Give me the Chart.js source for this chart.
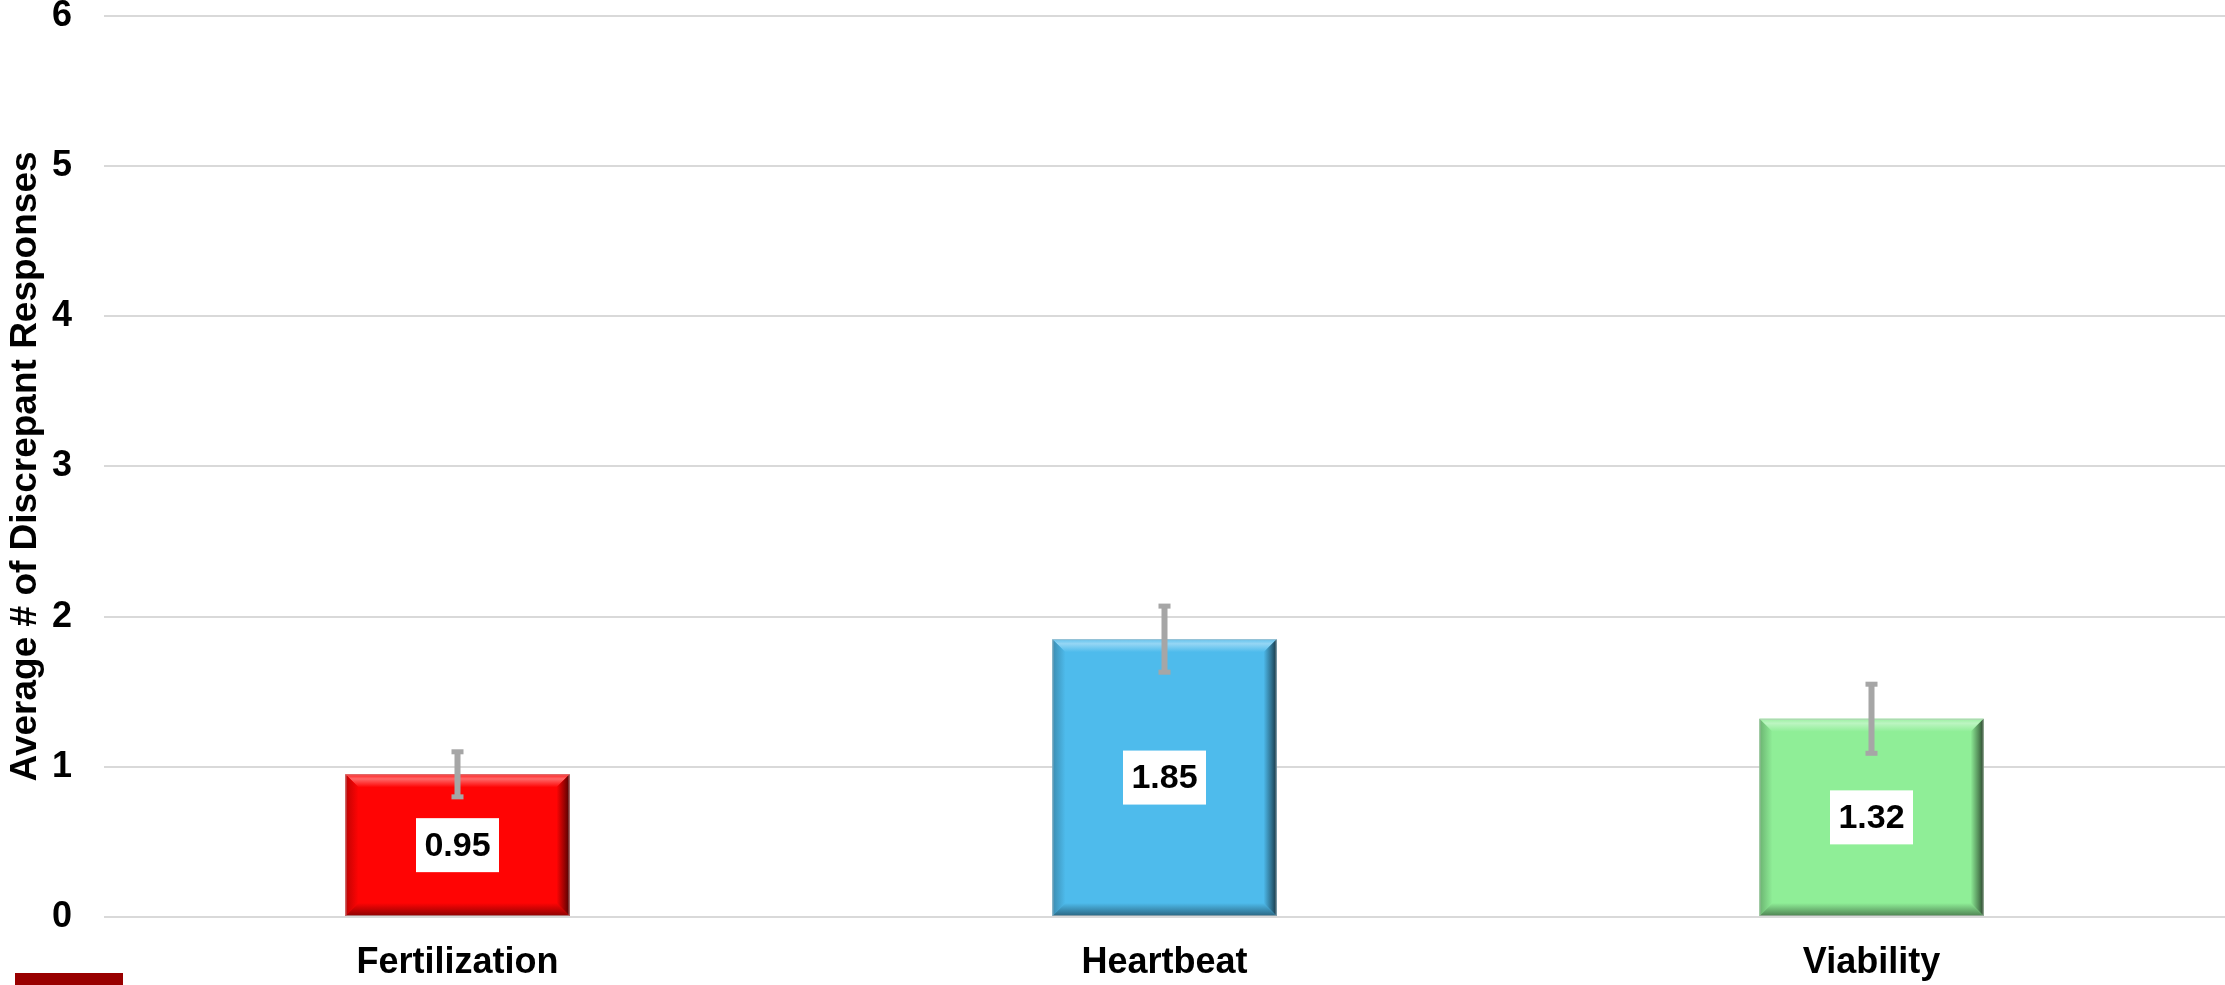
<!DOCTYPE html>
<html><head><meta charset="utf-8">
<style>
html,body{margin:0;padding:0;background:#fff;overflow:hidden}
#wrap{position:relative;width:2225px;height:985px}
#c{display:block}
#deco{position:absolute;left:15px;top:973px;width:108px;height:12px;background:#990000}
</style>
<script src="https://cdn.jsdelivr.net/npm/chart.js@4.4.1/dist/chart.umd.min.js"></script>
</head><body>
<div id="wrap"><canvas id="c" width="2225" height="985"></canvas><div id="deco"></div></div>
<script>
const categories = ['Fertilization', 'Heartbeat', 'Viability'];
const averages = [0.95, 1.85, 1.32];
const errors = [0.16, 0.23, 0.24];
const barColors = ['#FF0404', '#4EBBEC', '#8FEE97'];
const yTickValues = [0, 1, 2, 3, 4, 5, 6];
const yTitle = 'Average # of Discrepant Responses';

const FONT = '"Liberation Sans", Arial, Helvetica, sans-serif';

function hexToRgb(h) {
  h = h.replace('#', '');
  return [parseInt(h.substr(0,2),16), parseInt(h.substr(2,2),16), parseInt(h.substr(4,2),16)];
}
function mix(hex, target, t) {
  const c = hexToRgb(hex);
  const r = c.map((v, i) => Math.round(v + (target[i] - v) * t));
  return `rgb(${r[0]},${r[1]},${r[2]})`;
}

const bevelPlugin = {
  id: 'bevel',
  afterDatasetsDraw(chart) {
    const ctx = chart.ctx;
    const meta = chart.getDatasetMeta(0);
    meta.data.forEach((bar, i) => {
      const col = barColors[i];
      const l = bar.x - bar.width / 2, r = bar.x + bar.width / 2;
      const t = bar.y, bt = bar.base;
      const b = 13;
      ctx.save();
      let g = ctx.createLinearGradient(0, t, 0, t + b);
      g.addColorStop(0, mix(col, [255,255,255], 0.1));
      g.addColorStop(0.35, mix(col, [255,255,255], 0.4));
      g.addColorStop(1, col);
      ctx.fillStyle = g;
      ctx.beginPath(); ctx.moveTo(l, t); ctx.lineTo(r, t); ctx.lineTo(r - b, t + b); ctx.lineTo(l + b, t + b); ctx.closePath(); ctx.fill();
      g = ctx.createLinearGradient(l, 0, l + b, 0);
      g.addColorStop(0, mix(col, [0,0,0], 0.25));
      g.addColorStop(1, col);
      ctx.fillStyle = g;
      ctx.beginPath(); ctx.moveTo(l, t); ctx.lineTo(l + b, t + b); ctx.lineTo(l + b, bt - b); ctx.lineTo(l, bt); ctx.closePath(); ctx.fill();
      g = ctx.createLinearGradient(r - b, 0, r, 0);
      g.addColorStop(0, col);
      g.addColorStop(0.6, mix(col, [0,0,0], 0.4));
      g.addColorStop(1, mix(col, [0,0,0], 0.7));
      ctx.fillStyle = g;
      ctx.beginPath(); ctx.moveTo(r, t); ctx.lineTo(r, bt); ctx.lineTo(r - b, bt - b); ctx.lineTo(r - b, t + b); ctx.closePath(); ctx.fill();
      g = ctx.createLinearGradient(0, bt - b, 0, bt);
      g.addColorStop(0, col);
      g.addColorStop(1, mix(col, [0,0,0], 0.45));
      ctx.fillStyle = g;
      ctx.beginPath(); ctx.moveTo(l, bt); ctx.lineTo(r, bt); ctx.lineTo(r - b, bt - b); ctx.lineTo(l + b, bt - b); ctx.closePath(); ctx.fill();
      ctx.strokeStyle = 'rgba(190,190,190,0.6)';
      ctx.lineWidth = 1;
      ctx.strokeRect(l + 0.5, t + 0.5, r - l - 1, bt - t - 1);
      ctx.restore();
    });
  }
};

const errorBarPlugin = {
  id: 'errorBars',
  afterDatasetsDraw(chart) {
    const ctx = chart.ctx;
    const ys = chart.scales.y;
    const meta = chart.getDatasetMeta(0);
    ctx.save();
    ctx.fillStyle = '#A6A6A6';
    meta.data.forEach((bar, i) => {
      const yHi = ys.getPixelForValue(averages[i] + errors[i]);
      const yLo = ys.getPixelForValue(averages[i] - errors[i]);
      const x = bar.x;
      ctx.fillRect(x - 3, yHi, 6, yLo - yHi);
      ctx.fillRect(x - 6, yHi - 1, 12, 5);
      ctx.fillRect(x - 6, yLo - 4, 12, 5);
    });
    ctx.restore();
  }
};

const labelPlugin = {
  id: 'valueLabels',
  afterDatasetsDraw(chart) {
    const ctx = chart.ctx;
    const meta = chart.getDatasetMeta(0);
    ctx.save();
    ctx.font = `bold 34px ${FONT}`;
    ctx.textAlign = 'center';
    ctx.textBaseline = 'middle';
    meta.data.forEach((bar, i) => {
      const cy = (bar.y + bar.base) / 2;
      const w = 83, h = 54;
      ctx.fillStyle = '#FFFFFF';
      ctx.fillRect(bar.x - w / 2, cy - h / 2, w, h);
      ctx.fillStyle = '#000000';
      ctx.fillText(averages[i].toFixed(2), bar.x, cy + 1);
    });
    ctx.restore();
  }
};

new Chart(document.getElementById('c'), {
  type: 'bar',
  data: {
    labels: categories,
    datasets: [{
      data: averages,
      backgroundColor: barColors,
      borderWidth: 0,
      barPercentage: 0.317,
      categoryPercentage: 1.0
    }]
  },
  options: {
    responsive: false,
    animation: false,
    devicePixelRatio: 1,
    layout: { padding: 0 },
    plugins: { legend: { display: false }, tooltip: { enabled: false } },
    scales: {
      x: {
        grid: { display: false, drawTicks: false },
        border: { display: false },
        ticks: { color: '#000', font: { family: FONT, size: 36, weight: 'bold' }, padding: 24 },
        afterFit(scale) { scale.height = 68; }
      },
      y: {
        min: 0, max: 6,
        afterBuildTicks(scale) { scale.ticks = yTickValues.map(v => ({ value: v })); },
        grid: { color: '#D9D9D9', lineWidth: 2, drawTicks: true, tickLength: 32, tickColor: 'rgba(0,0,0,0)' },
        border: { display: false },
        ticks: { color: '#000', font: { family: FONT, size: 36, weight: 'bold', lineHeight: 0.88 }, padding: 0 },
        title: { display: true, text: yTitle, color: '#000', font: { family: FONT, size: 37, weight: 'bold' }, padding: { top: 4, bottom: 0 } },
        afterFit(scale) { scale.width = 104; }
      }
    }
  },
  plugins: [bevelPlugin, errorBarPlugin, labelPlugin]
});
</script>
</body></html>
